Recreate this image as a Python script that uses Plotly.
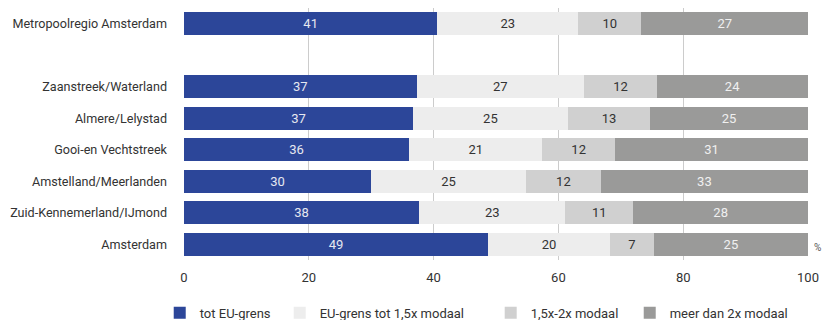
import plotly.graph_objects as go

categories = [
    "Metropoolregio Amsterdam",
    " ",
    "Zaanstreek/Waterland",
    "Almere/Lelystad",
    "Gooi-en Vechtstreek",
    "Amstelland/Meerlanden",
    "Zuid-Kennemerland/IJmond",
    "Amsterdam",
]

series_names = ["tot EU-grens", "EU-grens tot 1,5x modaal", "1,5x-2x modaal", "meer dan 2x modaal"]

tot_eu_grens = [40.6, None, 37.3, 36.7, 36.1, 30.0, 37.7, 48.7]
eu_tot_15x = [22.6, None, 26.8, 24.8, 21.3, 24.8, 23.4, 19.6]
x15_2x = [10.1, None, 11.7, 13.2, 11.7, 12.0, 10.9, 7.0]
meer_2x = [26.7, None, 24.2, 25.3, 30.9, 33.2, 28.0, 24.7]

x_ticks = [0, 20, 40, 60, 80, 100]

colors = ["#2C4699", "#EDEDED", "#D0D0D0", "#9A9A99"]
text_colors = ["#E6E8F0", "#333333", "#333333", "#F0F0F0"]
legend_x = [-0.0389, 0.1534, 0.4915, 0.7143]

FONT = "Roboto"

fig = go.Figure()
for i, (name, vals) in enumerate(zip(series_names, [tot_eu_grens, eu_tot_15x, x15_2x, meer_2x])):
    fig.add_trace(go.Bar(
        y=categories,
        x=vals,
        name=name,
        orientation="h",
        marker=dict(color=colors[i], line=dict(width=0)),
        texttemplate="%{x:.0f}",
        textposition="inside",
        insidetextanchor="middle",
        textangle=0,
        constraintext="none",
        insidetextfont=dict(family=FONT, size=13, color=text_colors[i]),
        legend="legend" if i == 0 else f"legend{i+1}",
        hoverinfo="skip",
    ))

legend_common = dict(
    orientation="h",
    yanchor="middle",
    y=-0.21,
    xanchor="left",
    font=dict(family=FONT, size=13, color="#333333"),
    bgcolor="rgba(0,0,0,0)",
    itemclick=False,
    itemdoubleclick=False,
)

fig.update_layout(
    width=822,
    height=320,
    margin=dict(l=184, r=14, t=8, b=60, autoexpand=False),
    paper_bgcolor="white",
    plot_bgcolor="white",
    barmode="stack",
    bargap=0.27,
    font=dict(family=FONT, size=13, color="#333333"),
    showlegend=True,
    legend=dict(legend_common, x=legend_x[0]),
    legend2=dict(legend_common, x=legend_x[1]),
    legend3=dict(legend_common, x=legend_x[2]),
    legend4=dict(legend_common, x=legend_x[3]),
    xaxis=dict(
        range=[0, 100],
        tickvals=x_ticks,
        showgrid=True,
        gridcolor="#CCCCCC",
        gridwidth=1,
        zeroline=False,
        showline=False,
        ticks="",
        ticklabelstandoff=8,
        automargin=False,
        tickfont=dict(family=FONT, size=13, color="#333333"),
        fixedrange=True,
    ),
    yaxis=dict(
        type="category",
        categoryorder="array",
        categoryarray=categories,
        autorange="reversed",
        showgrid=False,
        zeroline=False,
        showline=False,
        ticks="",
        ticklabelstandoff=16,
        automargin=False,
        tickfont=dict(family=FONT, size=12.6, color="#333333"),
        fixedrange=True,
    ),
    annotations=[dict(
        text="%",
        xref="paper", yref="y",
        x=1.0, y="Amsterdam",
        xanchor="left", yanchor="middle",
        xshift=4, yshift=-3,
        showarrow=False,
        font=dict(family=FONT, size=10, color="#555555"),
    )],
)

fig.write_html(
    "out.html",
    config={"displayModeBar": False, "staticPlot": False},
    post_script="document.body.style.margin='0';document.body.style.overflow='hidden';",
)
